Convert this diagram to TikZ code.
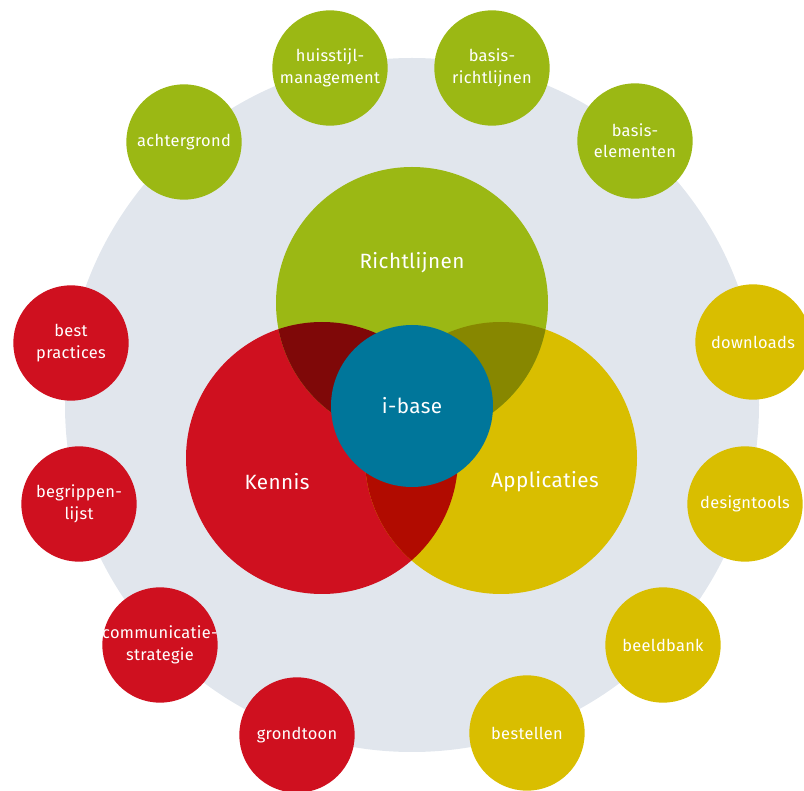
\documentclass[tikz,border=0pt]{standalone}
\usepackage{fontspec}
\setmainfont{Fira Sans}[LetterSpace=2]
\definecolor{cgreen}{HTML}{9BB814}
\definecolor{cred}{HTML}{CF101F}
\definecolor{cyellow}{HTML}{D9BE00}
\definecolor{cblue}{HTML}{00769A}
\definecolor{cgrey}{HTML}{E1E6ED}
\definecolor{cdarkred}{HTML}{7F0808}
\definecolor{colive}{HTML}{878700}
\definecolor{credyel}{HTML}{B10B00}
\tikzset{
  small/.style={circle, inner sep=-10pt, minimum size=86.5pt, text=white, align=center,
    font=\fontsize{12.3}{16}\selectfont},
  big/.style={circle, inner sep=0pt, minimum size=204pt},
  biglabel/.style={text=white, font=\fontsize{15.5}{18}\selectfont},
}
\begin{document}
\begin{tikzpicture}[x=0.75pt,y=-0.75pt]
\useasboundingbox (0,0) rectangle (804,791);
% background circle
\node[circle, inner sep=0pt, minimum size=520.5pt, fill=cgrey] (bg) at (412,405) {};
% three main circles
\node[big, fill=cred] (kennis) at (322,458) {};
\node[big, fill=cyellow] (appl) at (501,458) {};
\node[big, fill=cgreen] (richt) at (412,303) {};
% overlaps
\begin{scope}
  \clip (richt.center) circle (136);
  \fill[cdarkred] (kennis.center) circle (136);
  \fill[colive] (appl.center) circle (136);
\end{scope}
\begin{scope}
  \clip (kennis.center) circle (136);
  \fill[credyel] (appl.center) circle (136);
\end{scope}
\node[circle, inner sep=0pt, minimum size=121.5pt, fill=cblue] (ibase) at (412,406) {};
% labels
\node[biglabel] (lr) at (412,263) {Richtlijnen};
\node[biglabel] (lk) at (277,482) {Kennis};
\node[biglabel] (la) at (545,482) {Applicaties};
\node[biglabel] (li) at (412,406) {i-base};
% small circles
\node[small, fill=cgreen] (s1) at (184,142) {achtergrond};
\node[small, fill=cgreen] (s2) at (330,68) {huisstijl-\\management};
\node[small, fill=cgreen] (s3) at (492,68) {basis-\\richtlijnen};
\node[small, fill=cgreen] (s4) at (635,141) {basis-\\elementen};
\node[small, fill=cyellow] (s5) at (753,342) {downloads};
\node[small, fill=cyellow] (s6) at (745,504) {designtools};
\node[small, fill=cyellow] (s7) at (663,645) {beeldbank};
\node[small, fill=cyellow] (s8) at (527,733) {bestellen};
\node[small, fill=cred] (s9) at (297,735) {grondtoon};
\node[small, fill=cred] (s10) at (160,645) {communicatie-\\strategie};
\node[small, fill=cred] (s11) at (79,504) {begrippen-\\lijst};
\node[small, fill=cred] (s12) at (71,343) {best\\practices};
\end{tikzpicture}
\end{document}
